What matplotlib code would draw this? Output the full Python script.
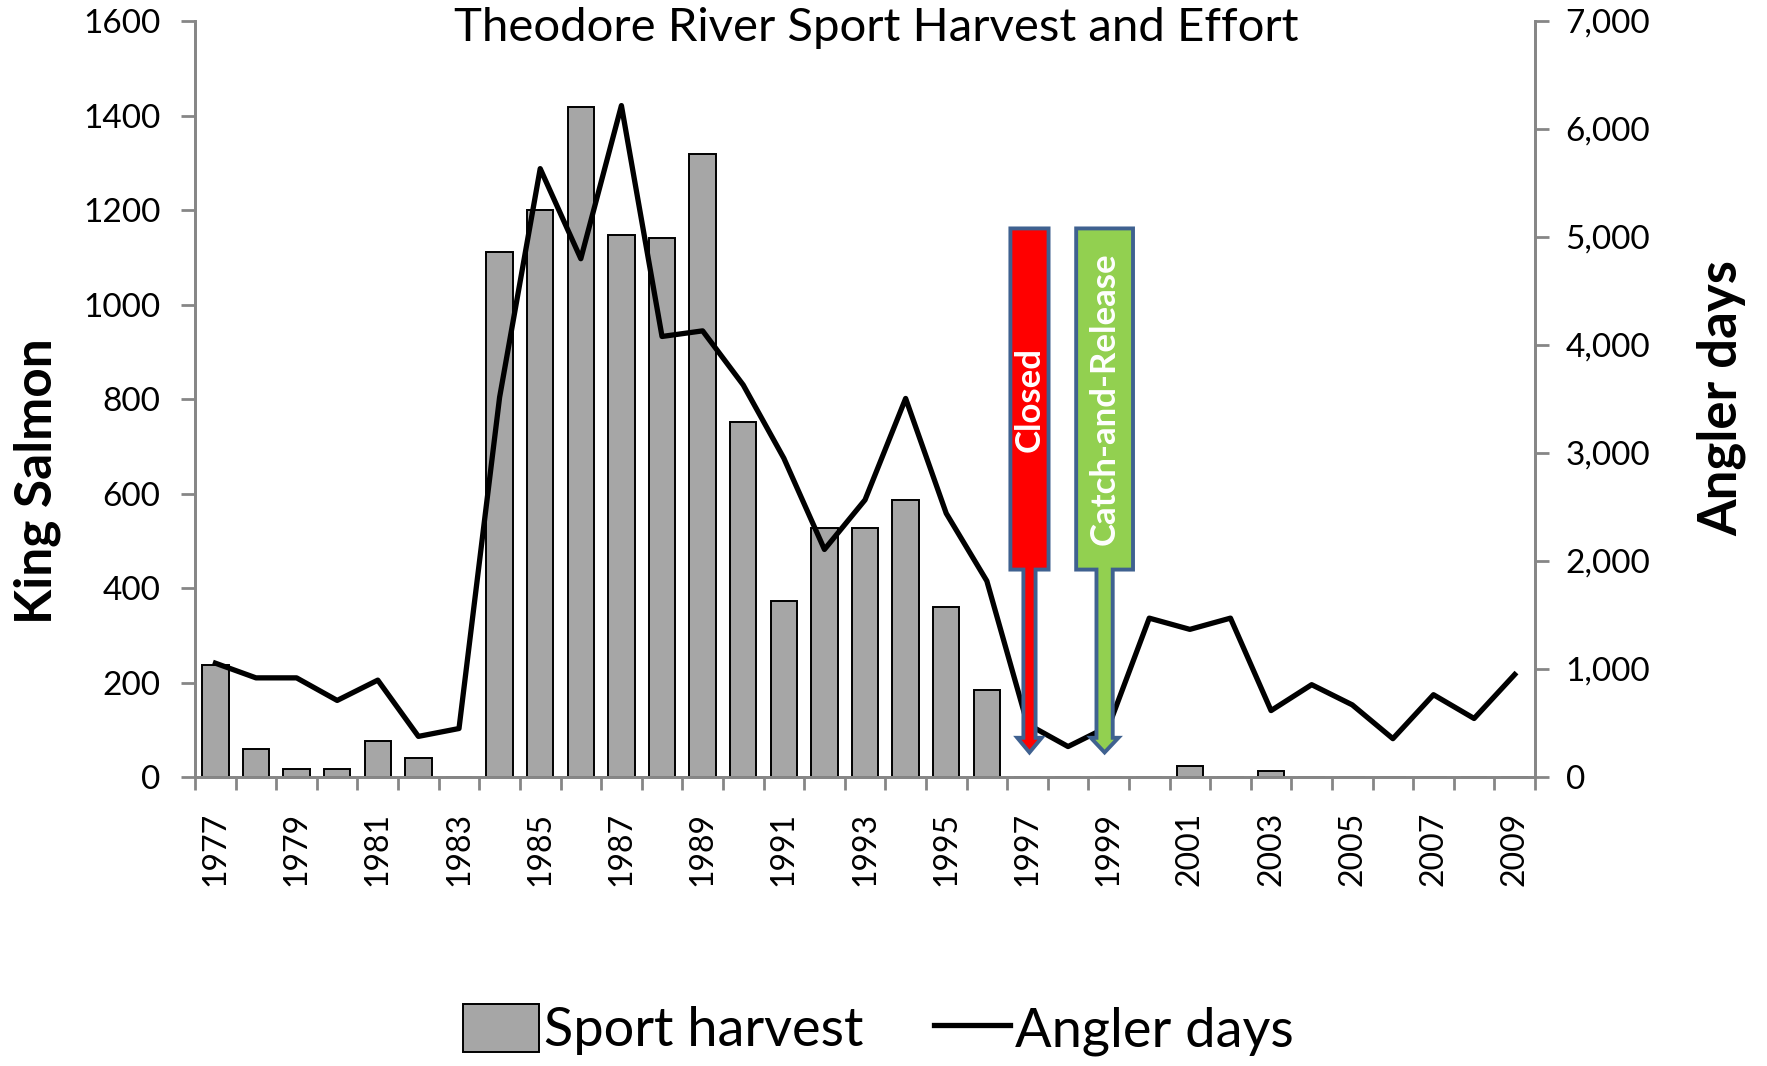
import matplotlib.pyplot as plt
import numpy as np
from matplotlib.patches import Polygon, Patch
from matplotlib.lines import Line2D
from matplotlib.ticker import FuncFormatter

plt.rcParams['font.family'] = ['Lato', 'DejaVu Sans']

# ---------- data ----------
years = list(range(1977, 2010))
harvest = [236, 60, 17, 17, 76, 40, 0, 1111, 1199, 1419, 1147, 1140, 1318, 751,
           372, 527, 527, 587, 360, 184, 0, 0, 0, 0, 24, 0, 12, 0, 0, 0, 0, 0, 0]
angler_days = [1054, 918, 918, 709, 897, 376, 449, 3516, 5633, 4799, 6217, 4079,
               4131, 3630, 2952, 2107, 2566, 3505, 2441, 1815, 490, 282, 469, 1471,
               1367, 1471, 615, 855, 668, 355, 762, 542, 949]
left_ticks = [0, 200, 400, 600, 800, 1000, 1200, 1400, 1600]
right_ticks = [0, 1000, 2000, 3000, 4000, 5000, 6000, 7000]

axis_gray = '#868686'
edge_blue = '#3F6190'

fig = plt.figure(figsize=(17.67, 10.66), dpi=100)
ax = fig.add_axes([0.1104, 0.2711, 0.7583, 0.7092])
ax2 = ax.twinx()

x = np.arange(len(years))
ax.bar(x, harvest, width=0.65, color='#A6A6A6', edgecolor='black', linewidth=1.4, zorder=2)
ax2.plot(x, angler_days, color='black', linewidth=3.8, zorder=3)

ax.set_xlim(-0.5, len(years) - 0.5)
ax.set_ylim(0, 1600)
ax2.set_ylim(0, 7000)

ax.set_yticks(left_ticks)
ax2.set_yticks(right_ticks)
ax2.yaxis.set_major_formatter(FuncFormatter(lambda v, p: f'{int(v):,}'))

# category labels every other year, tick marks at category boundaries
ax.set_xticks(x[::2])
ax.set_xticklabels([str(y) for y in years[::2]], rotation=90)
ax.set_xticks(np.arange(-0.5, len(years)), minor=True)
ax.tick_params(axis='x', which='major', length=0, pad=25, labelsize=23)
ax.tick_params(axis='x', which='minor', length=9, width=2, color=axis_gray, direction='out')
ax.tick_params(axis='y', length=10, width=2, color=axis_gray, labelsize=24, pad=15)
ax2.tick_params(axis='y', length=10, width=2, color=axis_gray, labelsize=24, pad=12)

for a in (ax, ax2):
    a.spines['top'].set_visible(False)
    for s in ('left', 'right', 'bottom'):
        a.spines[s].set_color(axis_gray)
        a.spines[s].set_linewidth(2)

ax2.set_zorder(ax.get_zorder() + 1)
ax.patch.set_visible(False)

# ---------- arrow callouts ----------
def callout(cx, half_box, half_shaft, half_head, color, label):
    top, box_bottom, head_base, tip = 1161, 439, 83, 52
    pts = [(cx - half_box, top), (cx + half_box, top), (cx + half_box, box_bottom),
           (cx + half_shaft, box_bottom), (cx + half_shaft, head_base),
           (cx + half_head, head_base), (cx, tip), (cx - half_head, head_base),
           (cx - half_shaft, head_base), (cx - half_shaft, box_bottom),
           (cx - half_box, box_bottom)]
    ax2.add_patch(Polygon(pts, closed=True, facecolor=color, edgecolor=edge_blue,
                          linewidth=2.8, transform=ax.transData, zorder=5))
    ax2.text(cx, (top + box_bottom) / 2, label, rotation=90, color='white',
             fontsize=25, fontweight='bold', ha='center', va='center',
             transform=ax.transData, zorder=6)

callout(20.05, 0.47, 0.15, 0.3, '#FF0000', 'Closed')
callout(21.9, 0.7, 0.2, 0.34, '#92D050', 'Catch-and-Release')

# ---------- labels ----------
fig.text(0.496, 0.974, 'Theodore River Sport Harvest and Effort', fontsize=34,
         ha='center', va='center')
fig.text(0.021, 0.549, 'King Salmon', fontsize=37, fontweight='bold',
         rotation=90, ha='center', va='center')
fig.text(0.974, 0.627, 'Angler days', fontsize=38, fontweight='bold',
         rotation=90, ha='center', va='center')

handles = [Patch(facecolor='#A6A6A6', edgecolor='black', linewidth=1.4),
           Line2D([0], [0], color='black', linewidth=3.8)]
fig.legend(handles, ['Sport harvest', 'Angler days'], loc='center',
           bbox_to_anchor=(0.497, 0.034), ncol=2, frameon=False, fontsize=39,
           handlelength=1.4, handleheight=1.0, handletextpad=0.1, columnspacing=1.3)

fig.savefig('out.png', dpi=100)
